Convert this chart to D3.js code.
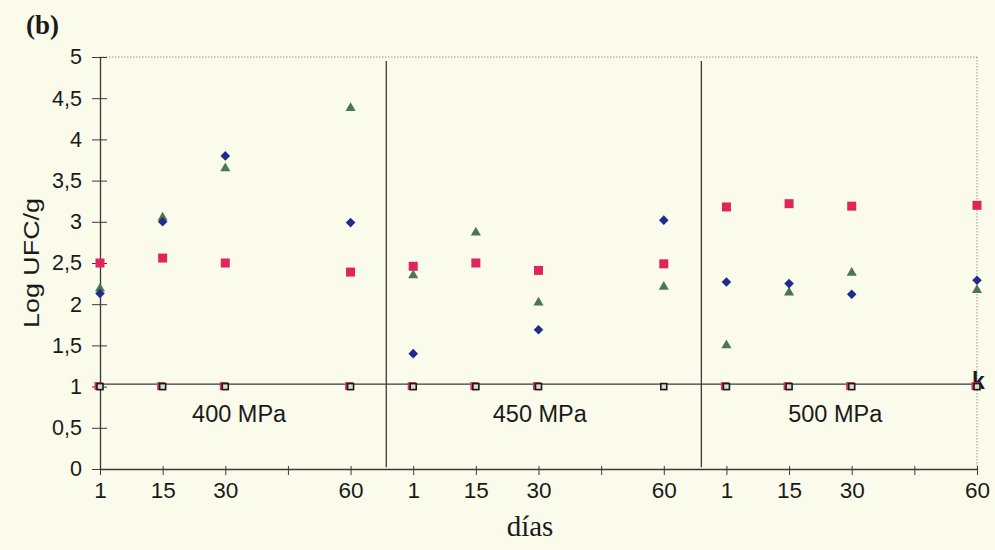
<!DOCTYPE html>
<html>
<head>
<meta charset="utf-8">
<script src="https://cdn.jsdelivr.net/npm/d3@7"></script>
<style>
  body { margin: 0; background: #fafbea; }
  svg { display: block; }
</style>
</head>
<body>
<script>
// tick labels along the x axis, one block per pressure
var tickLabels = ["1", "15", "30", "", "60"];
var groups = ["400 MPa", "450 MPa", "500 MPa"];
var sampleDays = ["1", "15", "30", "60"];   // days sampled in each group

// values in group order: 400 (1,15,30,60), 450 (...), 500 (...)
var blueVals  = [2.13, 3.00, 3.80, 2.99,  1.40, null, 1.69, 3.02,  2.27, 2.25, 2.12, 2.29];
var pinkVals  = [2.50, 2.56, 2.50, 2.39,  2.46, 2.50, 2.41, 2.49,  3.18, 3.22, 3.19, 3.20];
var greenVals = [2.19, 3.05, 3.65, 4.38,  2.35, 2.87, 2.02, 2.21,  1.50, 2.14, 2.38, 2.17];
var pinkLow   = [1, 1, 1, 1,  1, 1, 1, null,  1, 1, 1, 1];
var openVals  = [1, 1, 1, 1,  1, 1, 1, 1,  1, 1, 1, 1];
var kLine = 1.03;
var yTicks = [0, 0.5, 1, 1.5, 2, 2.5, 3, 3.5, 4, 4.5, 5];

var w = 995, h = 550;
var sans = "Liberation Sans, Arial, sans-serif";
var serif = "Liberation Serif, Times New Roman, serif";
var ink = "#1a1a1a", axisCol = "#3a3a3a";

var svg = d3.select("body").append("svg").attr("width", w).attr("height", h);

var nTicks = tickLabels.length * groups.length;
var x = d3.scaleLinear().domain([0, nTicks - 1]).range([100, 977]);
var y = d3.scaleLinear().domain([0, 5]).range([469, 57]);

var fmt = function(v) { return String(v).replace(".", ","); };

// index on the x scale for a sampled point
var pointIndex = function(i) {
  var g = Math.floor(i / sampleDays.length);
  return g * tickLabels.length + tickLabels.indexOf(sampleDays[i % sampleDays.length]);
};

// plot frame: dotted top and right
svg.append("line").attr("x1", 100).attr("x2", 977).attr("y1", y(5)).attr("y2", y(5))
  .attr("stroke", "#9a9a90").attr("stroke-dasharray", "1.5,1.5");
svg.append("line").attr("x1", 977).attr("x2", 977).attr("y1", y(5)).attr("y2", y(0))
  .attr("stroke", "#9a9a90").attr("stroke-dasharray", "1.5,1.5");

// group dividers
var dividers = [4.57, 9.6];
dividers.forEach(function(p) {
  svg.append("line").attr("x1", x(p)).attr("x2", x(p)).attr("y1", y(4.95)).attr("y2", y(0.02))
    .attr("stroke", axisCol).attr("stroke-width", 1.3);
});

// y axis
var yAxis = d3.axisLeft(y).tickValues(yTicks).tickFormat(fmt).tickSizeOuter(0);
var gy = svg.append("g").attr("transform", "translate(100,0)").call(yAxis);
gy.select(".domain").attr("stroke", axisCol).attr("stroke-width", 1.3);
gy.selectAll(".tick line").attr("stroke", axisCol).attr("x2", -8).attr("x1", 7);
gy.selectAll(".tick text").attr("font-family", sans)
  .attr("font-size", 21.5).attr("fill", ink).attr("x", -18);

// x axis
var xAxis = d3.axisBottom(x).tickValues(d3.range(nTicks))
  .tickFormat(function(d) { return tickLabels[d % tickLabels.length]; })
  .tickSizeInner(6).tickSizeOuter(0).tickPadding(7);
var gx = svg.append("g").attr("transform", "translate(0," + y(0) + ")").call(xAxis);
gx.select(".domain").attr("stroke", axisCol).attr("stroke-width", 1.3);
gx.selectAll(".tick line").attr("stroke", axisCol).attr("y1", -3);
gx.selectAll(".tick text").attr("font-family", sans)
  .attr("font-size", 22.5).attr("fill", ink);

// detection limit line
svg.append("line").attr("x1", 95).attr("x2", 977).attr("y1", y(kLine)).attr("y2", y(kLine))
  .attr("stroke", axisCol).attr("stroke-width", 1.3);
svg.append("text").attr("x", 972).attr("y", y(kLine) + 5).text("k")
  .attr("font-family", sans).attr("font-weight", "bold")
  .attr("font-size", 23).attr("fill", "#1a1a1a");

// markers
var pts = function(vals) {
  return vals.map(function(v, i) { return { i: pointIndex(i), v: v }; })
    .filter(function(d) { return d.v != null; });
};

svg.selectAll("rect.pinklow").data(pts(pinkLow)).enter().append("rect")
  .attr("class", "pinklow")
  .attr("x", function(d) { return x(d.i) - 5.5; }).attr("y", function(d) { return y(d.v) - 4.5; })
  .attr("width", 8).attr("height", 8).attr("fill", "#d8306a");

svg.selectAll("rect.open").data(pts(openVals)).enter().append("rect")
  .attr("class", "open")
  .attr("x", function(d) { return x(d.i) - 3; }).attr("y", function(d) { return y(d.v) - 3; })
  .attr("width", 6).attr("height", 6).attr("fill", "#d8dccc")
  .attr("stroke", "#1a1a1a").attr("stroke-width", 1.6);

svg.selectAll("rect.pink").data(pts(pinkVals)).enter().append("rect")
  .attr("class", "pink")
  .attr("x", function(d) { return x(d.i) - 4.5; }).attr("y", function(d) { return y(d.v) - 4.5; })
  .attr("width", 9).attr("height", 9).attr("fill", "#e0245c");

var tri = d3.symbol().type(d3.symbolTriangle).size(44);
svg.selectAll("path.green").data(pts(greenVals)).enter().append("path")
  .attr("class", "green")
  .attr("transform", function(d) { return "translate(" + x(d.i) + "," + y(d.v) + ")"; })
  .attr("d", tri).attr("fill", "#4a7752");

// excel-style diamond: a square turned 45 degrees
var dia = d3.symbol().type(d3.symbolSquare).size(46);
svg.selectAll("path.blue").data(pts(blueVals)).enter().append("path")
  .attr("class", "blue")
  .attr("transform", function(d) { return "translate(" + x(d.i) + "," + y(d.v) + ") rotate(45)"; })
  .attr("d", dia).attr("fill", "#1f2b8e");

// group labels, centred in each panel
var bounds = [x(0)].concat(dividers.map(x)).concat([x(nTicks - 1)]);
groups.forEach(function(g, k) {
  svg.append("text").attr("x", (bounds[k] + bounds[k + 1]) / 2 - 4).attr("y", 422)
    .attr("text-anchor", "middle").text(g)
    .attr("font-family", sans).attr("font-size", 23.5).attr("fill", ink);
});

// axis titles
svg.append("text").attr("transform", "translate(39,263) rotate(-90)")
  .attr("text-anchor", "middle").text("Log UFC/g")
  .attr("textLength", 130).attr("lengthAdjust", "spacingAndGlyphs")
  .attr("font-family", sans).attr("font-size", 22).attr("fill", ink);

svg.append("text").attr("x", 530).attr("y", 536).attr("text-anchor", "middle").text("días")
  .attr("font-family", serif).attr("font-size", 29).attr("fill", ink);

svg.append("text").attr("x", 26).attr("y", 34).text("(b)")
  .attr("font-family", serif).attr("font-weight", "bold")
  .attr("font-size", 27).attr("fill", ink);
</script>
</body>
</html>
